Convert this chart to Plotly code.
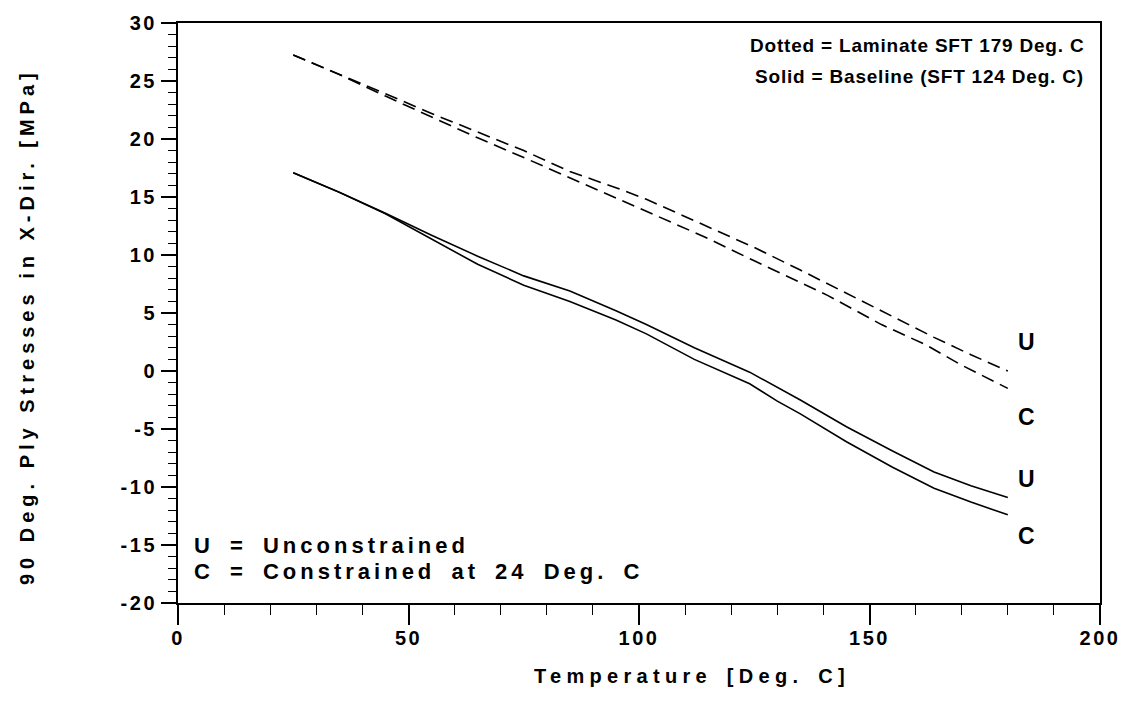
import plotly.graph_objects as go

# ---------------- data ----------------
temp_dot_u = [25, 35, 45, 55, 65, 75, 85, 95, 101.6, 114, 125, 135, 141, 152.6, 164, 172, 180]
dot_u = [27.25, 25.6, 23.9, 22.2, 20.6, 19.0, 17.2, 15.8, 14.8, 12.6, 10.65, 8.7, 7.5, 5.2, 2.9, 1.4, 0.0]

temp_dot_c = [25, 35, 45, 55, 65, 75, 85, 95, 101.6, 114, 125, 135, 141, 152.6, 162, 170, 180]
dot_c = [27.25, 25.55, 23.7, 21.9, 20.1, 18.4, 16.65, 14.9, 13.8, 11.6, 9.5, 7.6, 6.5, 4.0, 2.3, 0.5, -1.5]

temp_sol = [25, 35, 45, 55, 65, 75, 85, 95, 101.6, 112, 124, 130, 135, 145, 155, 164, 172, 180]
sol_u = [17.1, 15.4, 13.6, 11.7, 9.9, 8.2, 6.9, 5.2, 4.0, 2.0, -0.1, -1.4, -2.5, -4.8, -6.9, -8.7, -9.9, -10.9]
sol_c = [17.1, 15.4, 13.55, 11.4, 9.2, 7.4, 6.0, 4.4, 3.2, 1.0, -1.1, -2.6, -3.7, -6.1, -8.3, -10.1, -11.3, -12.4]

x_ticks = [0, 50, 100, 150, 200]
y_ticks = [-20, -15, -10, -5, 0, 5, 10, 15, 20, 25, 30]

end_labels = ["U", "C", "U", "C"]
end_label_y = [2.5, -4.0, -9.3, -14.2]
end_label_x = 184.0

x_title = "Temperature [Deg. C]"
y_title = "90 Deg. Ply Stresses in X-Dir. [MPa]"
note_top = ["Dotted = Laminate SFT 179 Deg. C", "Solid = Baseline (SFT 124 Deg. C)"]
note_bottom = ["U = Unconstrained", "C = Constrained at 24 Deg. C"]

# ---------------- figure ----------------
FONT = "Liberation Sans, Arial, sans-serif"


def spaced(t, ls, ws=0):
    return f"<b><span style='letter-spacing:{ls}px;word-spacing:{ws}px'>{t}</span></b>"


fig = go.Figure()
line_black = dict(color="black", width=1.6)
fig.add_trace(go.Scatter(x=temp_dot_u, y=dot_u, mode="lines",
                         line=dict(color="black", width=1.6, dash="13px,7px")))
fig.add_trace(go.Scatter(x=temp_dot_c, y=dot_c, mode="lines",
                         line=dict(color="black", width=1.6, dash="13px,7px")))
fig.add_trace(go.Scatter(x=temp_sol, y=sol_u, mode="lines", line=line_black))
fig.add_trace(go.Scatter(x=temp_sol, y=sol_c, mode="lines", line=line_black))

fig.update_layout(
    width=1132, height=718,
    margin=dict(l=178, r=27, t=22, b=115),
    paper_bgcolor="white", plot_bgcolor="white",
    showlegend=False,
    font=dict(family=FONT, color="black"),
)

fig.update_xaxes(
    range=[0, 200], showgrid=False, zeroline=False,
    showline=True, linecolor="black", linewidth=2, mirror=True,
    ticks="outside", ticklen=20, tickwidth=1.5, tickcolor="black",
    tickvals=x_ticks, ticktext=[spaced(str(v), 2.5) for v in x_ticks],
    ticklabelstandoff=-4,
    tickfont=dict(family=FONT, size=20, color="black", weight="bold"),
    minor=dict(ticks="outside", dtick=10, ticklen=10, tickwidth=1.2, tickcolor="black", showgrid=False),
)
fig.update_yaxes(
    range=[-20, 30], showgrid=False, zeroline=False,
    showline=True, linecolor="black", linewidth=2, mirror=True,
    ticks="outside", ticklen=15, tickwidth=1.5, tickcolor="black",
    tickvals=y_ticks, ticktext=[spaced(str(v), 2.5) for v in y_ticks],
    tickfont=dict(family=FONT, size=20, color="black", weight="bold"),
    minor=dict(ticks="outside", dtick=1, ticklen=8, tickwidth=1.2, tickcolor="black", showgrid=False),
)

ann = []
ann.append(dict(xref="paper", yref="paper", x=0.558, y=-0.126, text=spaced(x_title, 5.3, 4),
                showarrow=False, xanchor="center", yanchor="middle",
                font=dict(family=FONT, size=20, color="black")))
ann.append(dict(xref="paper", yref="paper", x=-0.163, y=0.477, text=spaced(y_title, 5.0),
                showarrow=False, xanchor="center", yanchor="middle", textangle=-90,
                font=dict(family=FONT, size=20, color="black")))
for lab, yv in zip(end_labels, end_label_y):
    ann.append(dict(x=end_label_x, y=yv, text=f"<b>{lab}</b>", showarrow=False,
                    xanchor="center", yanchor="middle",
                    font=dict(family=FONT, size=23, color="black")))
for t, yv in zip(note_top, [28.1, 25.35]):
    ann.append(dict(x=197.0, y=yv, text=spaced(t, 0.8, 0), showarrow=False,
                    xanchor="right", yanchor="middle",
                    font=dict(family=FONT, size=19, color="black")))
for t, yv in zip(note_bottom, [-15.0, -17.3]):
    ann.append(dict(x=3.0, y=yv, text=spaced(t, 4.0, 6), showarrow=False,
                    xanchor="left", yanchor="middle",
                    font=dict(family=FONT, size=22, color="black")))
fig.update_layout(annotations=ann)

fig.write_html("out.html")
